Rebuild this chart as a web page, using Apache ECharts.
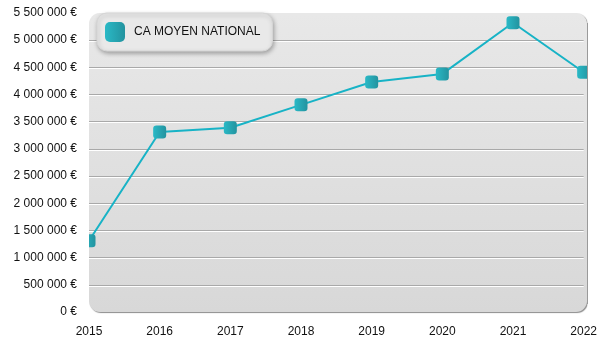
<!DOCTYPE html>
<html><head><meta charset="utf-8">
<script src="https://cdn.jsdelivr.net/npm/echarts@6/dist/echarts.min.js"></script>
<style>html,body{margin:0;padding:0;background:#fff}#c{width:600px;height:350px}</style>
</head><body><div id="c"></div>
<script>
const years = ['2015','2016','2017','2018','2019','2020','2021','2022'];
const caMoyen = [1310000, 3310000, 3390000, 3810000, 4230000, 4380000, 5320000, 4410000];
const seriesName = 'CA MOYEN NATIONAL';
const yMax = 5500000, yStep = 500000;

const G = {left: 89, right: 13, top: 13, bottom: 38};
const PW = 600 - G.left - G.right, PH = 350 - G.top - G.bottom;
const chart = echarts.init(document.getElementById('c'));
function fmt(v){ return String(v).replace(/\B(?=(\d{3})+(?!\d))/g, ' ') + ' €'; }
const markerGrad = new echarts.graphic.LinearGradient(0,0,1,0,[{offset:0,color:'#2ab9c6'},{offset:1,color:'#23939f'}]);
chart.setOption({
  animation: false,
  textStyle: {fontFamily: 'Arial, "Liberation Sans", sans-serif'},
  graphic: [{
    type: 'rect', z: -10, silent: true,
    shape: {x: G.left, y: G.top, width: PW, height: PH, r: 11},
    style: {
      fill: new echarts.graphic.LinearGradient(0,0,0,1,[{offset:0,color:'#e8e8e8'},{offset:1,color:'#d8d8d8'}]),
      shadowBlur: 1, shadowOffsetX: 1, shadowOffsetY: 1, shadowColor: 'rgba(0,0,0,0.45)'
    }
  },
  {type: 'rect', z: 50, silent: true, shape: {x: 78, y: 0, width: G.left - 78, height: 320}, style: {fill: '#fff'}},
  {type: 'rect', z: 50, silent: true, shape: {x: G.left + PW + 0.5, y: 0, width: 20, height: 318}, style: {fill: '#fff'}},
  {type: 'line', z: 51, silent: true, shape: {x1: G.left + PW + 0.5, y1: G.top + 10, x2: G.left + PW + 0.5, y2: G.top + PH - 8}, style: {stroke: '#9a9a9a', lineWidth: 1}}
  ],
  legend: {
    left: 97, top: 13, orient: 'horizontal',
    data: [{name: seriesName, itemStyle: {color: markerGrad}}],
    icon: 'roundRect', itemWidth: 20, itemHeight: 20,
    padding: [9, 12, 9, 8],
    backgroundColor: '#e9e9e9', borderRadius: 10,
    borderColor: '#d6d6d6', borderWidth: 1,
    shadowBlur: 4, shadowOffsetX: 1, shadowOffsetY: 2, shadowColor: 'rgba(0,0,0,0.3)',
    textStyle: {fontSize: 12, color: '#111', padding: [0,0,0,4]}
  },
  grid: {left: G.left, right: G.right, top: G.top, bottom: G.bottom, containLabel: false},
  xAxis: {
    type: 'category', data: years, boundaryGap: false,
    axisLine: {show: false}, axisTick: {show: false},
    axisLabel: {fontSize: 12, color: '#111', margin: 14}
  },
  yAxis: {
    type: 'value', min: 0, max: yMax, interval: yStep,
    axisLine: {show: false}, axisTick: {show: false},
    axisLabel: {fontSize: 12, color: '#111', margin: 12, formatter: fmt},
    splitLine: {showMinLine: false, showMaxLine: false, lineStyle: {color: '#a9a9a9', width: 1, shadowColor: '#ffffff', shadowOffsetY: 1, shadowBlur: 0}}
  },
  series: [{
    name: seriesName, type: 'line', data: caMoyen,
    symbol: 'roundRect', symbolSize: 13, showAllSymbol: true,
    lineStyle: {color: '#17b3c6', width: 2},
    itemStyle: {color: markerGrad, borderWidth: 0},
    clip: true
  }]
});
</script></body></html>
